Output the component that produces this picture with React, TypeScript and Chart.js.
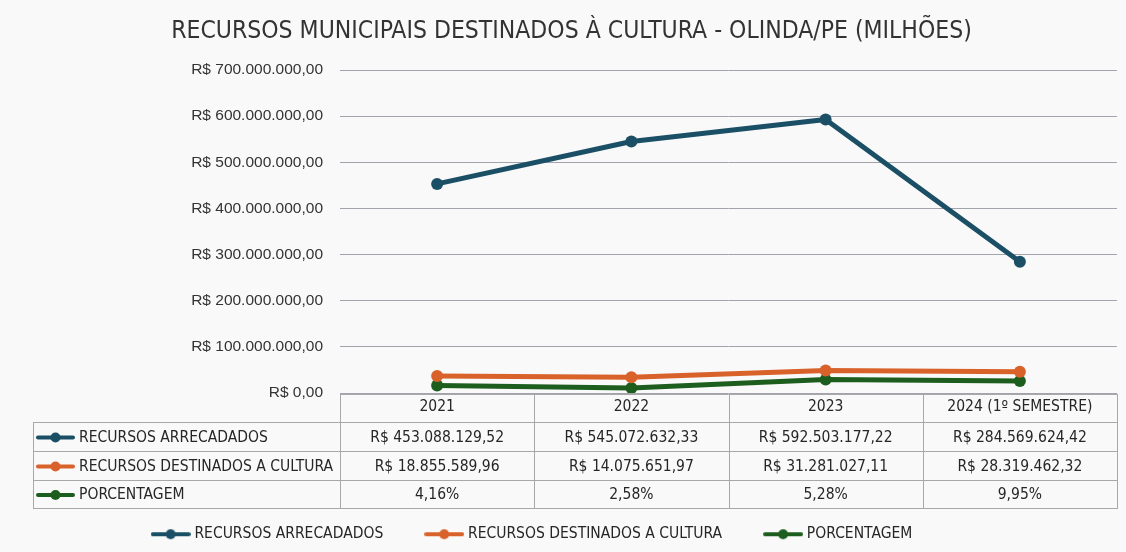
import React, { useEffect, useRef } from "react";
import { Chart, registerables } from "chart.js";

Chart.register(...registerables);

const chartTitle = "RECURSOS MUNICIPAIS DESTINADOS À CULTURA - OLINDA/PE (MILHÕES)";
const categories = ["2021", "2022", "2023", "2024 (1º SEMESTRE)"];
const seriesNames = ["RECURSOS ARRECADADOS", "RECURSOS DESTINADOS A CULTURA", "PORCENTAGEM"];

// plotted values (as drawn in the reference)
const arrecadadosValues = [453088129.52, 545072632.33, 592503177.22, 284569624.42];
const culturaValues = [37000000, 34000000, 49000000, 46000000];
const porcentagemValues = [16000000, 11000000, 29000000, 26000000];

// data table texts
const arrecadadosTable = ["R$ 453.088.129,52", "R$ 545.072.632,33", "R$ 592.503.177,22", "R$ 284.569.624,42"];
const culturaTable = ["R$ 18.855.589,96", "R$ 14.075.651,97", "R$ 31.281.027,11", "R$ 28.319.462,32"];
const porcentagemTable = ["4,16%", "2,58%", "5,28%", "9,95%"];

const yTickLabels = [
  "R$ 0,00",
  "R$ 100.000.000,00",
  "R$ 200.000.000,00",
  "R$ 300.000.000,00",
  "R$ 400.000.000,00",
  "R$ 500.000.000,00",
  "R$ 600.000.000,00",
  "R$ 700.000.000,00",
];

const seriesColors = ["#1b4f66", "#d9622b", "#1d5e1f"];

const NARROW = "'Liberation Sans Narrow', 'Arial Narrow', 'DejaVu Sans Condensed', sans-serif";
const REGULAR = "'Liberation Sans', Arial, sans-serif";
const TEXT_COLOR = "#262626";
const BORDER_COLOR = "#a8a8a8";

function makeMarker(color: string): HTMLCanvasElement {
  const c = document.createElement("canvas");
  c.width = 40;
  c.height = 12;
  const g = c.getContext("2d")!;
  g.strokeStyle = color;
  g.lineWidth = 4;
  g.lineCap = "round";
  g.beginPath();
  g.moveTo(2, 6);
  g.lineTo(38, 6);
  g.stroke();
  g.fillStyle = color;
  g.beginPath();
  g.arc(20, 6, 5, 0, Math.PI * 2);
  g.fill();
  return c;
}

function drawRowMarker(ctx: CanvasRenderingContext2D, x0: number, x1: number, y: number, color: string) {
  ctx.save();
  ctx.strokeStyle = color;
  ctx.fillStyle = color;
  ctx.lineWidth = 4;
  ctx.lineCap = "round";
  ctx.beginPath();
  ctx.moveTo(x0, y);
  ctx.lineTo(x1, y);
  ctx.stroke();
  ctx.beginPath();
  ctx.arc((x0 + x1) / 2, y, 5, 0, Math.PI * 2);
  ctx.fill();
  ctx.restore();
}

const boxShiftPlugin = {
  id: "boxShift",
  afterLayout(chart: any) {
    if (chart.legend) {
      chart.legend.left -= 25;
      chart.legend.right -= 25;
    }
    if (chart.titleBlock) {
      chart.titleBlock.left += 13;
      chart.titleBlock.right += 13;
    }
  },
};

const tablePlugin = {
  id: "dataTable",
  afterDraw(chart: any) {
    const { ctx, chartArea, scales } = chart;
    const xs = scales.x;
    const left = chartArea.left;
    const right = chartArea.right;
    const labelLeft = 33;
    const yTop = Math.round(chartArea.bottom) + 1;
    const rowHeights = [28, 29, 29, 28];
    const ys = [yTop];
    rowHeights.forEach((h) => ys.push(ys[ys.length - 1] + h));
    const colW = (right - left) / categories.length;

    ctx.save();
    ctx.strokeStyle = BORDER_COLOR;
    ctx.lineWidth = 1;
    ctx.beginPath();
    ctx.moveTo(left, ys[0] + 0.5);
    ctx.lineTo(right, ys[0] + 0.5);
    for (let r = 1; r < ys.length; r++) {
      ctx.moveTo(labelLeft, ys[r] + 0.5);
      ctx.lineTo(right, ys[r] + 0.5);
    }
    for (let c = 0; c <= categories.length; c++) {
      const xx = Math.round(left + c * colW) + 0.5;
      ctx.moveTo(xx, ys[0]);
      ctx.lineTo(xx, ys[ys.length - 1] + 1);
    }
    ctx.moveTo(labelLeft + 0.5, ys[1]);
    ctx.lineTo(labelLeft + 0.5, ys[ys.length - 1] + 1);
    ctx.stroke();

    const rows = [arrecadadosTable, culturaTable, porcentagemTable];
    ctx.textBaseline = "middle";
    rows.forEach((row, r) => {
      const cy = (ys[r + 1] + ys[r + 2]) / 2 + 1;
      ctx.fillStyle = TEXT_COLOR;
      ctx.font = `15.5px ${NARROW}`;
      ctx.textAlign = "center";
      row.forEach((txt, i) => {
        ctx.fillText(txt, xs.getPixelForValue(i), cy);
      });
      drawRowMarker(ctx, 38, 73, cy, seriesColors[r]);
      ctx.fillStyle = TEXT_COLOR;
      ctx.font = `15.5px ${NARROW}`;
      ctx.textAlign = "left";
      ctx.fillText(seriesNames[r], 79, cy);
    });
    ctx.restore();
  },
};

export default function App() {
  const canvasRef = useRef<HTMLCanvasElement | null>(null);

  useEffect(() => {
    const canvas = canvasRef.current;
    if (!canvas) return;
    const markers = seriesColors.map((c) => makeMarker(c));
    const valueSets = [arrecadadosValues, culturaValues, porcentagemValues];

    const chart = new Chart(canvas, {
      type: "line",
      data: {
        labels: categories,
        datasets: seriesNames.map((name, i) => ({
          label: name,
          data: valueSets[i],
          borderColor: seriesColors[i],
          backgroundColor: seriesColors[i],
          borderWidth: 5,
          pointRadius: 6,
          pointHoverRadius: 6,
          pointBackgroundColor: seriesColors[i],
          pointBorderColor: seriesColors[i],
          pointBorderWidth: 0,
          tension: 0,
          fill: false,
          borderCapStyle: "round",
          borderJoinStyle: "round",
        })),
      },
      options: {
        responsive: false,
        animation: false,
        devicePixelRatio: 1,
        layout: { padding: { left: 0, right: 9, top: 0, bottom: 0 } },
        plugins: {
          title: {
            display: true,
            text: chartTitle,
            color: "#333333",
            font: { family: NARROW, size: 24.5, weight: "normal" },
            padding: { top: 17, bottom: 23.6 },
          },
          legend: {
            display: true,
            position: "bottom",
            labels: {
              usePointStyle: true,
              pointStyleWidth: 32,
              boxHeight: 12,
              padding: 45,
              color: TEXT_COLOR,
              font: { family: NARROW, size: 15.5 },
              generateLabels: (ch: any) =>
                ch.data.datasets.map((ds: any, i: number) => ({
                  text: ds.label,
                  pointStyle: markers[i],
                  fillStyle: seriesColors[i],
                  strokeStyle: seriesColors[i],
                  lineWidth: 0,
                  hidden: false,
                  datasetIndex: i,
                  fontColor: TEXT_COLOR,
                })),
            },
          },
          tooltip: { enabled: false },
        },
        scales: {
          x: {
            type: "category",
            offset: true,
            grid: { display: false, drawTicks: false },
            border: { display: false },
            ticks: {
              color: TEXT_COLOR,
              font: { family: NARROW, size: 15.5 },
              padding: 5,
              maxRotation: 0,
              autoSkip: false,
            },
            afterFit: (scale: any) => {
              scale.height = 88.5;
            },
          },
          y: {
            min: 0,
            max: 700000000,
            grid: { color: "#a3a3ab", lineWidth: 1, drawTicks: false },
            border: { display: false },
            ticks: {
              stepSize: 100000000,
              color: "#333333",
              font: { family: REGULAR, size: 15.5 },
              padding: 17,
              callback: (_v: any, index: number) => yTickLabels[index],
            },
            afterFit: (scale: any) => {
              scale.width = 340;
            },
          },
        },
      },
      plugins: [boxShiftPlugin, tablePlugin],
    });
    return () => chart.destroy();
  }, []);

  return (
    <div
      style={{
        position: "fixed",
        left: 0,
        top: 0,
        width: 1126,
        height: 552,
        background: "#f9f9f9",
      }}
    >
      <canvas ref={canvasRef} width={1126} height={552} style={{ display: "block" }} />
    </div>
  );
}
